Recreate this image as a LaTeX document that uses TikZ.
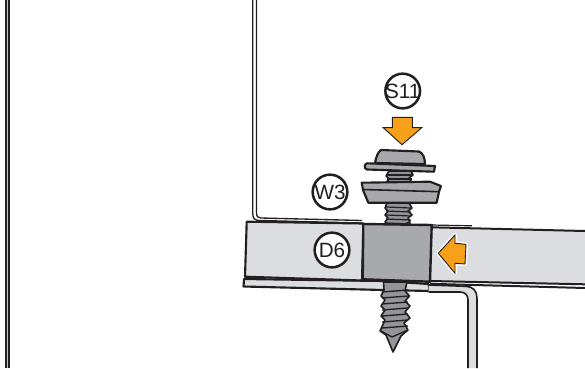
\documentclass[tikz,border=0pt]{standalone}
\usepackage{fontspec}
\setmainfont{Liberation Sans}
\definecolor{band}{HTML}{DCDDDE}
\definecolor{blockg}{HTML}{A7A9AC}
\definecolor{metal}{HTML}{A7A9AC}
\definecolor{thread}{HTML}{939598}
\definecolor{ink}{HTML}{231F20}
\definecolor{amber}{HTML}{F7A11A}
\newcommand{\tagtext}[1]{\makebox[0pt][c]{#1}}
\tikzset{
  tag/.style={draw=ink,line width=1.9pt,circle,fill=white,minimum size=26pt,inner sep=0pt,font=\fontsize{15.5pt}{16pt}\selectfont,text=ink},
  outline/.style={draw=ink,line width=1.6pt,line join=round},
  arrowmark/.style={fill=amber,draw=ink,line width=0.7pt,line join=miter}
}
\begin{document}
\begin{tikzpicture}[x=0.75pt,y=-0.75pt]
\useasboundingbox (0,0) rectangle (585,368);
% left wall
\fill[gray!45] (6,0) rectangle (9,368);
\draw[ink,line width=1.3pt] (5.7,0) -- (5.7,368) (9,0) -- (9,368);
% back sheet
\draw[ink,line width=1pt] (252.8,0) -- (252.8,214) .. controls (252.8,219) and (255,220.5) .. (260,220.5) -- (362,223);
\draw[ink,line width=1pt] (256.5,0) -- (256.5,213) .. controls (256.5,216.5) and (258,218) .. (261,218) -- (362,220.5);
% lower flange left
\filldraw[fill=band,outline] (244,279) -- (243.5,286.5) -- (383,290) -- (430,291) -- (428.5,284) -- (383,281) -- cycle;
\draw[ink,line width=1.1pt] (428.5,284) -- (428.5,292);
% L bracket right
\path[fill=band] (428.5,284.5) -- (466,286) .. controls (473,286.5) and (477,291) .. (477,298) -- (477,368) -- (468,368) -- (468,300) .. controls (468,295) and (465,292) .. (460,292) -- (428.5,292) -- cycle;
\draw[ink,line width=1.2pt] (428.5,285) -- (466,286.3) .. controls (473,286.5) and (477,291) .. (477,298) -- (477,368);
\draw[ink,line width=1.2pt] (428.5,292) -- (460,292) .. controls (465,292) and (468,295) .. (468,300) -- (468,368);
% left band
\filldraw[fill=band,outline] (246.7,221.7) -- (363.5,223.5) -- (362,280.5) -- (245,276.7) -- cycle;
% right band
\fill[band] (431,227) -- (585,231) -- (585,284) -- (430,281.5) -- cycle;
\draw[ink,line width=1.5pt] (431,227.3) -- (585,231);
\draw[ink,line width=1.5pt] (430,281) -- (585,284.3);
\draw[ink,line width=1.5pt] (430,283.8) -- (585,288);
\draw[ink,line width=0.9pt] (431,225) -- (472,225.8);
% upper thread
\filldraw[fill=thread,outline,line width=1.2pt] (387,203) -- (385,208) -- (388,211) -- (385,215) -- (388,218) -- (385,222) -- (387,225) -- (403,225) -- (410,222) -- (408,218) -- (412,215) -- (408,211) -- (412,208) -- (409,203) -- cycle;
\foreach \y in {207,211,215,219,223}{\draw[ink,line width=0.9pt] (386,\y) -- (411,\y+1);}
% thread between head and washer
\filldraw[fill=thread,outline,line width=1.2pt] (389,171) -- (386,176) -- (389,179) -- (386,182.5) -- (412,182.5) -- (409,178) -- (413,175) -- (411,171) -- cycle;
\foreach \y in {175,179}{\draw[ink,line width=0.9pt] (387,\y) -- (412,\y);}
% lower screw
\filldraw[fill=thread,outline,line width=1.2pt] (383.5,282) -- (384,290) -- (381,296) -- (385,300) -- (381,306) -- (385,310) -- (381,316) -- (385,320) -- (380,331) -- (386,335) -- (393,352) -- (401,336) -- (408,330) -- (404,323) -- (410,318) -- (405,312) -- (410,306) -- (405,301) -- (409.5,296) -- (405,291) -- (407,282) -- cycle;
\foreach \y in {291,297,303,309,315,321,327}{\draw[ink,line width=1pt] (382,\y+1) -- (408,\y-1);}
\draw[ink,line width=1pt] (381,331) -- (392,337) -- (408,330);
% washer
\filldraw[fill=metal,outline] (361.7,182.7) -- (430,181.7) -- (441,186) -- (439,191.7) -- (436.7,202.7) -- (368.3,202.7) -- (363,190) -- cycle;
\draw[ink,line width=1.2pt] (363,189.5) -- (439,191.7);
% screw head
\filldraw[fill=metal,outline] (375,163) .. controls (376,157) and (378,152) .. (381,150) -- (419,151.5) .. controls (423,153) and (425,158) .. (425,164) -- cycle;
\filldraw[fill=metal,outline] (367,163.3) -- (435,166) -- (434,171.7) -- (367,169.5) .. controls (364,169) and (364,164) .. (367,163.3) -- cycle;
% central block
\filldraw[fill=blockg,outline,line width=1.8pt] (363.3,224) -- (431.7,225) -- (430,281.7) -- (362.7,279.3) -- cycle;
% labels
\node[tag] (s11) at (402.7,91) {\tagtext{S11}};
\node[tag] (w3) at (330,192) {\tagtext{W3}};
\node[tag] (d6) at (332,250) {\tagtext{D6}};
% orange arrows
\draw[arrowmark] (392.3,117.3) -- (412.3,117.3) -- (412.3,127.7) -- (421.7,127.7) -- (402,144.7) -- (383.3,127.7) -- (392.3,127.7) -- cycle;
\filldraw[fill=amber,draw=white,line width=3pt,line join=round] (438.3,253.3) -- (455,235) -- (455,243.3) -- (466,244.3) -- (465,264) -- (455,263.3) -- (455,273.3) -- cycle;
\draw[arrowmark] (438.3,253.3) -- (455,235) -- (455,243.3) -- (466,244.3) -- (465,264) -- (455,263.3) -- (455,273.3) -- cycle;
\end{tikzpicture}
\end{document}
